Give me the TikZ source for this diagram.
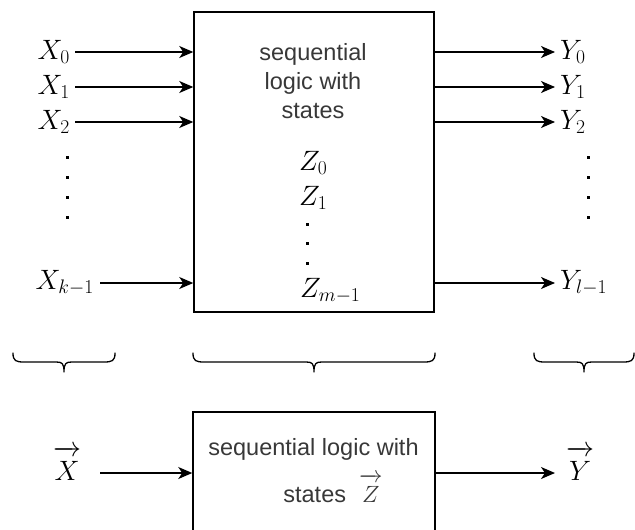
\RequirePackage{fix-cm}
\documentclass[tikz,border=0pt]{standalone}
\usepackage{amsmath}
\usepackage{fontspec}
\newfontfamily\lblfont{Liberation Sans}
\usetikzlibrary{arrows.meta}
\definecolor{txt}{HTML}{383838}
\begin{document}
\begin{tikzpicture}[x=1pt,y=-1pt,
  arr/.style={line width=1.5pt,-{Stealth[length=14pt,width=12pt,inset=4pt]}},
  blk/.style={draw,line width=1.5pt,rectangle,inner sep=0},
  mlab/.style={inner sep=0,font=\fontsize{28}{32}\selectfont},
  tlab/.style={inner sep=0,text=txt,font=\lblfont\fontsize{23.5}{29}\selectfont},
  brc/.style={line width=1.3pt,line cap=round,line join=round},
  dotm/.style={rectangle,fill=black,inner sep=0,minimum size=3pt}]
\useasboundingbox (0,0) rectangle (635,530);
\clip (0,0) rectangle (635,530);
% top block
\node[blk,minimum width=240pt,minimum height=300pt] (box) at (314,162) {};
\node[tlab,anchor=base] (t1) at (313,60) {sequential};
\node[tlab,anchor=base] (t2) at (313,89) {logic with};
\node[tlab,anchor=base] (t3) at (313,118) {states};
\node[mlab,anchor=base west] (z0) at (299,170) {$Z_0$};
\node[mlab,anchor=base west] (z1) at (299,205) {$Z_1$};
\node[dotm] (zd1) at (307,224) {};
\node[dotm] (zd2) at (307,243) {};
\node[dotm] (zd3) at (307,263) {};
\node[mlab,anchor=base west] (zm) at (300,297) {$Z_{m-1}$};
% inputs
\node[mlab,anchor=east] (x0) at (70,52) {$X_0$};
\node[mlab,anchor=east] (x1) at (70,87) {$X_1$};
\node[mlab,anchor=east] (x2) at (70,122) {$X_2$};
\node[mlab,anchor=east] (xk) at (94,283) {$X_{k-1}$};
\foreach \y [count=\i] in {157,177,197,217}{
  \node[dotm] (xd\i) at (67,\y) {};
  \node[dotm] (yd\i) at (588,\y) {};
}
\draw[arr] ([xshift=5pt]x0.east) -- (x0.east -| box.west);
\draw[arr] ([xshift=5pt]x1.east) -- (x1.east -| box.west);
\draw[arr] ([xshift=5pt]x2.east) -- (x2.east -| box.west);
\draw[arr] ([xshift=6pt]xk.east) -- (xk.east -| box.west);
% outputs
\node[mlab,anchor=west] (y0) at (560,52) {$Y_0$};
\node[mlab,anchor=west] (y1) at (560,87) {$Y_1$};
\node[mlab,anchor=west] (y2) at (560,122) {$Y_2$};
\node[mlab,anchor=west] (yl) at (560,283) {$Y_{l-1}$};
\draw[arr] (y0.west -| box.east) -- ([xshift=-5pt]y0.west);
\draw[arr] (y1.west -| box.east) -- ([xshift=-5pt]y1.west);
\draw[arr] (y2.west -| box.east) -- ([xshift=-5pt]y2.west);
\draw[arr] (yl.west -| box.east) -- ([xshift=-5pt]yl.west);
% braces
\foreach \a/\b [count=\i] in {13/115,193/435,534/634}{
  \pgfmathsetmacro{\c}{(\a+\b)/2}
  \coordinate (br\i) at (\c,372);
  \draw[brc] (\a,353) .. controls (\a,361) and (\a+3,362) .. (\a+11,362)
    -- (\c-8,362) .. controls (\c-2,362) and (\c,363) .. (br\i)
    .. controls (\c,363) and (\c+2,362) .. (\c+8,362)
    -- (\b-11,362) .. controls (\b-3,362) and (\b,361) .. (\b,353);
}
% bottom block
\node[blk,minimum width=242pt,minimum height=122pt] (box2) at (314,473) {};
\node[tlab,anchor=base] (s1) at (313.5,455) {sequential logic with};
\node[tlab,anchor=base] (s2) at (333,502) {states\ \ $\overrightarrow{\rule{0pt}{0.82em}Z}$};
\node[mlab,anchor=base] (vx) at (67,480) {$\overrightarrow{\rule{0pt}{0.85em}X}$};
\node[mlab,anchor=base] (vy) at (580,480) {$\overrightarrow{\rule{0pt}{0.85em}Y}$};
\coordinate (ax) at (100,473);
\coordinate (ay) at (555,473);
\draw[arr] (ax) -- (ax -| box2.west);
\draw[arr] (ay -| box2.east) -- (ay);
\end{tikzpicture}
\end{document}
